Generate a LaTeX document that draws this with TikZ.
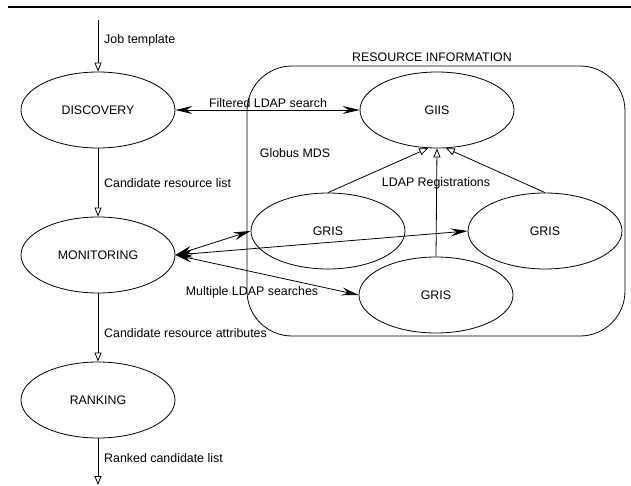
\documentclass[tikz,border=0pt]{standalone}
\usepackage{fontspec}
\setmainfont{Liberation Sans}
\usepackage{tikz}
\usetikzlibrary{shapes.geometric, arrows.meta, positioning}
\tikzset{
    phase/.style={ellipse, draw, line width=0.8pt, minimum width=154pt, minimum height=76pt, inner sep=0pt, text centered},
    container/.style={rectangle, draw, line width=0.8pt, rounded corners=45pt, minimum width=378pt, minimum height=270pt},
    flow/.style={-{Triangle[open, length=9pt, width=7pt]}, line width=0.8pt},
    query/.style={{Stealth[length=17pt, width=8pt, inset=6pt]}-{Stealth[length=17pt, width=8pt, inset=6pt]}, line width=0.8pt},
    tag/.style={anchor=west, inner sep=0pt}
}

\begin{document}
\begin{tikzpicture}[
    x=1pt, y=-1pt,
    every node/.style={font=\fontsize{12.4}{15}\selectfont}
]
    \useasboundingbox (0,0) rectangle (631,486);
    \draw[line width=2.5pt] (8,7) -- (631,7);

    % Resource information box
    \node[container] (mds) at (436,201) {};
    \node (restag) at (432,57) {RESOURCE INFORMATION};
    \node (mdstag) at (295,153) {Globus MDS};

    % Broker phases
    \coordinate (jobin) at (98,20);
    \node[phase] (discovery) at (98,110) {DISCOVERY};
    \node[phase] (monitoring) at (98,255) {MONITORING};
    \node[phase] (ranking) at (98,400) {RANKING};
    \coordinate (rankout) at (98,485);

    % MDS services
    \node[phase] (giis) at (437,110) {GIIS};
    \node[phase] (gris1) at (328,231) {GRIS};
    \node[phase] (gris2) at (545,231) {GRIS};
    \node[phase] (gris3) at (436,295) {GRIS};

    % Phase flow
    \draw[flow] (jobin) -- (discovery);
    \draw[flow] (discovery) -- (monitoring);
    \draw[flow] (monitoring) -- (ranking);
    \draw[flow] (ranking) -- (rankout);
    \node[tag] (jobtag) at (104,40) {Job template};
    \node[tag] (listtag) at (104,183) {Candidate resource list};
    \node[tag] (attrtag) at (104,333) {Candidate resource attributes};
    \node[tag] (rankedtag) at (104,458) {Ranked candidate list};

    % LDAP queries
    \draw[query] (discovery) -- (giis);
    \draw[query] (monitoring.east) -- (gris1.west);
    \draw[query] (monitoring.east) -- (gris2.west);
    \draw[query] (monitoring.east) -- (gris3.west);
    \node (filtertag) at (268,103) {Filtered LDAP search};
    \node (multitag) at (252,292) {Multiple LDAP searches};

    % Registrations
    \draw[flow] (gris1.north) -- (giis.-103);
    \draw[flow] (gris3.north) -- (giis.south);
    \draw[flow] (gris2.north) -- (giis.-77);
    \node (regtag) at (436,183) {LDAP Registrations};
\end{tikzpicture}
\end{document}
